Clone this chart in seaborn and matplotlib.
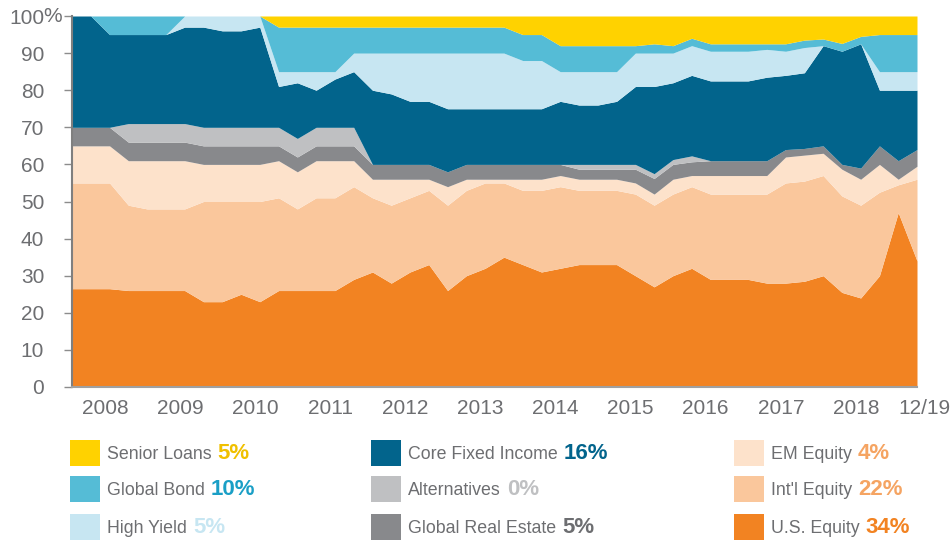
import numpy as np
import matplotlib
matplotlib.use("Agg")
import matplotlib.pyplot as plt
from matplotlib import font_manager
from matplotlib.patches import Rectangle
import seaborn as sns

# quarterly allocation (%) from mid-2007 to 12/2019, bottom layer first
us_equity = [26.5, 26.5, 26.5, 26, 26, 26, 26, 23, 23, 25, 23, 26, 26, 26, 26, 29, 31, 28, 31, 33, 26, 30, 32,
             35, 33, 31, 32, 33, 33, 33, 30, 27, 30, 32, 29, 29, 29, 28, 28, 28.5, 30, 25.5, 24, 30, 47, 34]
intl_equity = [28.5, 28.5, 28.5, 23, 22, 22, 22, 27, 27, 25, 27, 25, 22, 25, 25, 25, 20, 21, 20, 20, 23, 23, 23,
               20, 20, 22, 22, 20, 20, 20, 22, 22, 22, 22, 23, 23, 23, 24, 27, 27, 27, 26, 25, 22.5, 7.5, 22]
em_equity = [10, 10, 10, 12, 13, 13, 13, 10, 10, 10, 10, 10, 10, 10, 10, 7, 5, 7, 5, 3, 5, 3, 1,
             1, 3, 3, 3, 3, 3, 3, 3, 3, 4, 3, 5, 5, 5, 5, 7, 7, 6, 7.2, 7, 7.5, 1.5, 3.5]
real_estate = [5, 5, 5, 5, 5, 5, 5, 5, 5, 5, 5, 4, 4, 4, 4, 4, 4, 4, 4, 4, 4, 4, 4,
               4, 4, 4, 3, 2.7, 2.7, 2.7, 3.7, 4.2, 4, 3.7, 4, 4, 4, 4, 2, 1.8, 2, 1.3, 3, 5, 5, 4.5]
alternatives = [0, 0, 0, 5, 5, 5, 5, 5, 5, 5, 5, 5, 5, 5, 5, 5, 0, 0, 0, 0, 0, 0, 0,
                0, 0, 0, 0, 1.3, 1.3, 1.3, 1.3, 1.3, 1.3, 1.6, 0, 0, 0, 0, 0, 0, 0, 0, 0, 0, 0, 0]
core_fixed = [30, 30, 25, 24, 24, 24, 26, 27, 26, 26, 27, 11, 15, 10, 13, 15, 20, 19, 17, 17, 17, 15, 15,
              15, 15, 15, 17, 16, 16, 17, 21, 23.5, 20.7, 21.7, 21.5, 21.5, 21.5, 22.5, 20, 20.4, 27, 30.5, 33.5, 15, 19, 16]
high_yield = [0, 0, 0, 0, 0, 0, 3, 3, 4, 4, 3, 4, 3, 5, 2, 5, 10, 11, 13, 13, 15, 15, 15,
              15, 13, 13, 8, 9, 9, 8, 9, 9, 8, 8, 8, 8, 8, 7.5, 6.5, 6.8, 0, 0, 0, 5, 5, 5]
global_bond = [0, 0, 5, 5, 5, 5, 0, 0, 0, 0, 0, 12, 12, 12, 12, 7, 7, 7, 7, 7, 7, 7, 7,
               7, 7, 7, 7, 7, 7, 7, 2, 2.5, 2, 2, 2, 2, 2, 1.5, 2, 2, 1.8, 2.1, 2, 10, 10, 10]
senior_loans = [0, 0, 0, 0, 0, 0, 0, 0, 0, 0, 0, 3, 3, 3, 3, 3, 3, 3, 3, 3, 3, 3, 3,
                3, 5, 5, 8, 8, 8, 8, 8, 7.5, 8, 6, 7.5, 7.5, 7.5, 7.5, 7.5, 6.5, 6.2, 7.4, 5.5, 5, 5, 5]

series_names = ["U.S. Equity", "Int'l Equity", "EM Equity", "Global Real Estate", "Alternatives",
                "Core Fixed Income", "High Yield", "Global Bond", "Senior Loans"]
series_colors = ["#F28322", "#FAC79C", "#FDE2CB", "#88898C", "#BFC0C2",
                 "#02648C", "#C7E6F2", "#55BCD6", "#FFD200"]
current_pct = ["34%", "22%", "4%", "5%", "0%", "16%", "5%", "10%", "5%"]
pct_colors = ["#F28322", "#F5A462", "#F5A462", "#6D6E71", "#BFC0C2",
              "#02648C", "#C7E6F2", "#1A9FC6", "#F0C000"]
year_labels = ["2008", "2009", "2010", "2011", "2012", "2013", "2014", "2015", "2016", "2017", "2018"]
last_label = "12/19"

sns.set_theme(style="white")
names = {f.name for f in font_manager.fontManager.ttflist}
narrow = "Liberation Sans Narrow" if "Liberation Sans Narrow" in names else "Liberation Sans"
plt.rcParams["font.family"] = ["Liberation Sans", "DejaVu Sans"]
grey = "#6D6E71"

fig = plt.figure(figsize=(9.52, 5.41), dpi=100)
W, H = 952, 541
ax = fig.add_axes([72 / W, 1 - 387 / H, (917 - 72) / W, (387 - 16) / H])

x = np.arange(len(us_equity))
layers = [us_equity, intl_equity, em_equity, real_estate, alternatives,
          core_fixed, high_yield, global_bond, senior_loans]
polys = ax.stackplot(x, *layers, colors=series_colors, linewidth=0)

ax.set_xlim(0, len(x) - 1)
ax.set_ylim(0, 100)
ax.set_yticks(range(0, 101, 10))
ax.set_yticklabels([str(v) for v in range(0, 101, 10)])
ax.set_xticks([1.75 + 4 * k for k in range(len(year_labels))])
ax.set_xticklabels(year_labels)
ax.tick_params(axis="y", length=6, width=1, color="#8C8C8C", pad=14, labelsize=15, labelcolor=grey, left=True)
ax.tick_params(axis="x", length=0, pad=9, labelsize=15, labelcolor=grey)
ax.annotate(last_label, xy=(45.4, 0), xycoords=("data", "axes fraction"), xytext=(0, -9),
            textcoords="offset points", ha="center", va="top", fontsize=15, color=grey, annotation_clip=False)
ax.annotate("%", xy=(0, 1), xycoords="axes fraction", xytext=(-29 * 0.72, 0),
            textcoords="offset points", ha="left", va="center", fontsize=15, color=grey)

for side in ["top", "right"]:
    ax.spines[side].set_visible(False)
ax.spines["left"].set_color("#7F7F7F")
ax.spines["left"].set_linewidth(1.5)
ax.spines["bottom"].set_color("#A0A0A0")
ax.spines["bottom"].set_linewidth(1.5)

# legend: three columns, top to bottom
legend_order = [[8, 7, 6], [5, 4, 3], [2, 1, 0]]
col_x = [70, 371, 734]
row_y = [452.5, 488.5, 526.5]
fig.canvas.draw()
renderer = fig.canvas.get_renderer()
for c, col in enumerate(legend_order):
    for r, i in enumerate(col):
        x0 = col_x[c]
        yc = row_y[r]
        fig.add_artist(Rectangle((x0 / W, 1 - (yc + 13) / H), 30 / W, 26 / H,
                                 transform=fig.transFigure, color=series_colors[i], lw=0))
        t = fig.text((x0 + 37) / W, 1 - (yc + 2) / H, series_names[i], family=narrow,
                     fontsize=15 if narrow != "Liberation Sans" else 12.8, color=grey, va="center", ha="left")
        bb = t.get_window_extent(renderer)
        fig.text((bb.x1 + 6) / W, 1 - (yc + 1) / H, current_pct[i], fontsize=16, fontweight="bold",
                 color=pct_colors[i], va="center", ha="left")

fig.savefig("out.png", dpi=100)
